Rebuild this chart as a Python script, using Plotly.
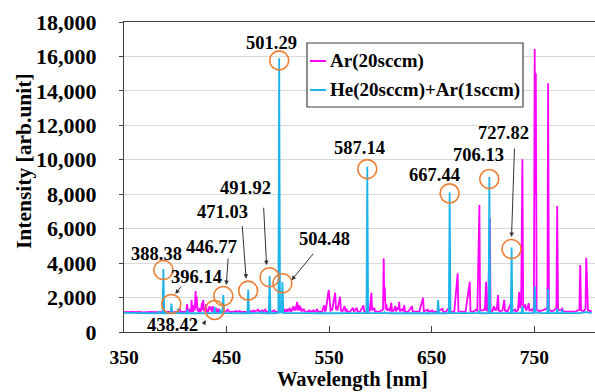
import plotly.graph_objects as go

# ---------------- data ----------------
ar_wl = [350, 353, 356, 359, 362, 365, 368, 371, 374, 377, 380, 383, 386, 389, 392, 395, 398, 401,
         403.7, 404.4, 405.1, 408, 410.8, 411.5, 412.2, 413.5, 414.1, 414.8, 415.3, 415.9, 416.6,
         417.5, 418.2, 418.9, 419.8, 420.4, 420.9, 421.6, 423.0, 423.7, 424.3, 425.3, 425.9, 426.6,
         427.2, 427.9, 429.3, 430.0, 430.7, 432.0, 432.7, 433.4, 434.1, 434.8, 435.5, 436.0, 436.6,
         437.3, 439.4, 440.1, 440.8, 442.0, 442.6, 443.3, 446, 449, 451.1, 452.2, 453, 456, 459.6,
         460.3, 462.8, 463.5, 466, 469, 472.7, 473.4, 476.5, 477.2, 480.6, 481.3, 484.8, 485.5,
         487.9, 488.6, 491, 493, 496.5, 497.2, 500, 502.5, 506.2, 506.9, 508.0, 508.8, 510.0, 510.7,
         512.0, 512.7, 514.0, 515.1, 515.8, 516.4, 517.2, 518.8, 519.6, 521.0, 521.7, 522.3, 523,
         525.3, 526.0, 528, 531.0, 531.7, 535.0, 535.7, 538.3, 539.0, 541, 543, 545.2, 545.9, 546.7,
         549.6, 550.6, 551.4, 553.0, 555.9, 556.7, 557.3, 558.0, 560.7, 561.4, 563, 565.1, 565.8,
         567.0, 567.7, 570, 573.4, 574.1, 577.0, 577.7, 580, 583.5, 584.2, 586, 588.9, 589.6, 591.2,
         591.9, 594.0, 594.7, 597, 599, 601, 602.5, 603.2, 603.8, 604.3, 605.0, 605.9, 606.6, 608.5,
         609.2, 610.6, 611.3, 613, 614.5, 615.2, 617.2, 617.8, 618.3, 619.0, 621.2, 621.9, 623.3,
         624.0, 627, 630.8, 631.5, 635, 638, 641.6, 642.3, 646.2, 646.9, 650.6, 651.3, 655, 660.5,
         661.2, 664, 667.7, 668.4, 672, 675.3, 676.0, 679, 683, 687.1, 687.8, 690, 693.8, 694.5,
         696.5, 697.2, 700, 701.1, 701.8, 703.0, 703.7, 705, 706.7, 707.4, 709, 710.7, 711.4, 712.6,
         713.3, 714.7, 715.4, 717, 719, 720.7, 721.4, 724, 727.3, 728.0, 731.2, 731.9, 734, 735.3,
         736.0, 737.2, 738.4, 739.2, 740, 741.2, 742, 743.5, 744.5, 745.2, 747.1, 747.8, 749.6,
         750.4, 751.0, 751.5, 752.3, 755, 758, 760, 762.8, 763.5, 764.3, 767, 769, 771.6, 772.4,
         773.2, 776.5, 777.2, 778, 782, 786, 790, 794.0, 794.8, 795.6, 798, 800.0, 800.6, 801.5,
         802.3, 806]
ar_int = [1150, 1165, 1145, 1160, 1150, 1170, 1145, 1160, 1150, 1165, 1150, 1160, 1150, 1165, 1150, 1160, 1150, 1170,
          1160, 1350, 1160, 1160, 1170, 1620, 1180, 1200, 1350, 1180, 1190, 1860, 1200,
          1220, 1550, 1250, 2380, 1400, 2050, 1250, 1200, 1400, 1200, 1250, 1700, 1300,
          1860, 1250, 1200, 1620, 1200, 1180, 1350, 1500, 1300, 1450, 1200, 1220, 1500,
          1200, 1180, 1400, 1180, 1170, 1350, 1170, 1160, 1170, 1300, 1250, 1160, 1170, 1220,
          1160, 1220, 1160, 1170, 1160, 1220, 1160, 1250, 1165, 1300, 1170, 1260, 1170,
          1300, 1160, 1170, 1160, 1250, 1170, 1160, 1180, 1300, 1180, 1320, 1190, 1350, 1200,
          1400, 1200, 1250, 1500, 1250, 1450, 1250, 1750, 1250, 1550, 1250, 1450, 1200,
          1350, 1180, 1170, 1250, 1170, 1250, 1170, 1300, 1170, 1180, 1170, 1550, 1200, 1250,
          2440, 1800, 1250, 1300, 2280, 1300, 1500, 1250, 2050, 1250, 1200, 1500, 1200,
          1350, 1180, 1170, 1400, 1180, 1400, 1180, 1170, 1550, 1180, 1170, 1400, 1200, 2280,
          1250, 1400, 1180, 1170, 1180, 1250, 1300, 4280, 1800, 2600, 1300, 1600, 1250, 1350,
          1200, 1700, 1200, 1250, 1500, 1200, 1450, 1300, 1750, 1200, 1350, 1200, 1550,
          1180, 1170, 1500, 1180, 1170, 1200, 1990, 1200, 1300, 1170, 1250, 1170, 1180, 1350,
          1170, 1180, 1500, 1180, 1170, 3400, 1200, 1180, 1170, 2920, 1200, 1180, 1300, 1200,
          7370, 1250, 1250, 1350, 1250, 2920, 1250, 1220, 6620, 1250, 1200, 1500, 1250, 1400,
          1250, 2150, 1250, 1200, 1250, 1860, 1250, 1200, 1700, 1200, 1300, 1200, 1250, 2340,
          1400, 1600, 10030, 1500, 1400, 1600, 1250, 1400, 1680, 1250, 1300, 1250, 1400,
          16430, 8000, 15020, 1300, 1200, 1250, 1300, 1400, 14440, 1300, 1200, 1250, 1400, 7320,
          1300, 1250, 1400, 1200, 1180, 1200, 1180, 1300, 3890, 1250, 1200, 1350, 4310, 2900,
          1250, 1200]

he_wl = [350, 356, 362, 368, 374, 380, 383.5, 384.3, 385.1, 387.6, 388.4, 389.2, 391, 395.4, 396.2,
         397.0, 400, 401.8, 402.6, 403.4, 407, 411.4, 412.1, 412.8, 418, 422, 426, 430, 434, 437.7,
         438.4, 439.1, 441, 443.1, 443.8, 444.5, 446.0, 446.8, 447.6, 452, 458, 464, 470.3, 471.1,
         471.9, 476, 480, 483.3, 484.0, 484.7, 488, 491.2, 492.0, 492.8, 496, 499.5, 500.5, 501.3,
         502.1, 503.7, 504.5, 505.3, 508, 514, 520, 526, 532, 538, 544, 550, 556, 562, 568, 574, 580,
         586.4, 587.2, 588.0, 592, 598, 603, 604, 605, 612, 620, 628, 636, 644, 650, 655.5, 656.3,
         657.1, 662, 666.7, 667.5, 668.3, 675, 685, 695.7, 696.5, 697.3, 702, 705.4, 706.2, 707.0,
         712, 718, 727.1, 727.9, 728.7, 734, 737.6, 738.4, 739.2, 745, 749.7, 750.5, 751.3, 755,
         760, 762.7, 763.5, 764.3, 768, 771.6, 772.4, 773.2, 776.4, 777.2, 778.0, 785, 794, 800.6,
         806]
he_int = [1105, 1095, 1100, 1090, 1095, 1090, 1100, 1170, 1095, 1090, 3650, 1095, 1090, 1095, 1650,
          1100, 1095, 1100, 1350, 1100, 1090, 1090, 1300, 1095, 1090, 1095, 1100, 1095, 1090, 1095,
          1450, 1100, 1095, 1100, 1300, 1100, 1095, 2150, 1095, 1090, 1095, 1090, 1090, 2450,
          1090, 1095, 1090, 1095, 1200, 1095, 1090, 1090, 3270, 1095, 1090, 1100, 1110, 15900,
          1150, 1140, 2900, 1100, 1095, 1090, 1095, 1090, 1095, 1090, 1095, 1090, 1095, 1090, 1095, 1090, 1095,
          1100, 9600, 1110, 1095, 1090, 1100, 1160, 1095, 1090, 1095, 1090, 1095, 1090, 1095, 1100, 1850,
          1100, 1090, 1100, 8100, 1100, 1095, 1090, 1100, 1250, 1095, 1090, 1100, 9000, 1110,
          1095, 1090, 1100, 4900, 1100, 1095, 1100, 1500, 1100, 1095, 1100, 2650, 1150, 1095,
          1090, 1100, 2500, 1100, 1095, 1100, 1350, 1095, 1100, 1300, 1095, 1090, 1095, 1150,
          1100]

# marked (circled) He / Ar lines
mark_wl = [388.38, 396.14, 438.42, 446.77, 471.03, 491.92, 501.29, 504.48, 587.14, 667.44, 706.13, 727.82]
mark_int = [3600, 1625, 1280, 2090, 2400, 3180, 15770, 2830, 9460, 8050, 8880, 4820]
mark_labels = ["388.38", "396.14", "438.42", "446.77", "471.03", "491.92", "501.29", "504.48",
               "587.14", "667.44", "706.13", "727.82"]

x_ticks = [350, 450, 550, 650, 750]
y_ticks = [0, 2000, 4000, 6000, 8000, 10000, 12000, 14000, 16000, 18000]

# ---------------- style ----------------
W, H = 595, 392
ML, MR, MT, MB = 124, 0, 22, 60
PW, PH = W - ML - MR, H - MT - MB
FONT = "Liberation Serif"
MAGENTA = "#FF00FF"
BLUE = "#1CB4EA"
ORANGE = "#ED7D31"
FRAME = "#404040"


def px_x(px):
    return (px - ML) / PW


def px_y(py):
    return (H - MB - py) / PH


fig = go.Figure()
fig.add_trace(go.Scatter(x=ar_wl, y=ar_int, mode="lines", name="Ar(20sccm)",
                         line=dict(color=MAGENTA, width=1.8), showlegend=False))
fig.add_trace(go.Scatter(x=he_wl, y=he_int, mode="lines", name="He(20sccm)+Ar(1sccm)",
                         line=dict(color=BLUE, width=1.8), showlegend=False))
fig.add_trace(go.Scatter(x=mark_wl, y=mark_int, mode="markers", showlegend=False,
                         marker=dict(symbol="circle-open", size=19,
                                     line=dict(color=ORANGE, width=1.6), color=ORANGE)))

# label offsets (pixels) relative to each circled point: (xshift, yshift)
label_shift = [(-7, 16), (25, 27), (-42, -15), (-12, 49), (-26, 79), (-24, 89),
               (-8, 17), (42, 44), (-8, 21), (-15, 18), (-11, 24), (-8, 116)]
# arrows: (index, head xshift, head yshift, ax, ay)
arrows = [(1, 4, 10, 7, -9), (2, -9, -10, -3, 6), (3, 3, 11, 2, -28), (4, -2, 12, -4, -54),
          (5, -3, 12, -3, -59), (7, 9, 3, 23, -28), (11, 0, 12, 3, -90)]

annotations = []
for i, (lab, (dx, dy)) in enumerate(zip(mark_labels, label_shift)):
    annotations.append(dict(x=mark_wl[i], y=mark_int[i], xref="x", yref="y", text=lab,
                            showarrow=False, xshift=dx, yshift=dy, xanchor="center", yanchor="middle",
                            font=dict(family=FONT, size=18.5, color="black", weight="bold"),
                            bgcolor="rgba(255,255,255,0.75)" if lab == "727.82" else None))
for (i, hx, hy, ax, ay) in arrows:
    annotations.append(dict(x=mark_wl[i], y=mark_int[i], xref="x", yref="y", text="",
                            showarrow=True, xshift=hx, yshift=hy, ax=ax, ay=ay,
                            arrowhead=2, arrowsize=0.9, arrowwidth=1, arrowcolor="#333333"))

# custom legend
legend_items = [("Ar(20sccm)", MAGENTA, 61), ("He(20sccm)+Ar(1sccm)", BLUE, 90)]
shapes = [dict(type="rect", xref="paper", yref="paper", x0=px_x(307), x1=px_x(523),
               y0=px_y(107), y1=px_y(43), line=dict(color=FRAME, width=1.2), fillcolor="white",
               layer="above")]
for text, col, py in legend_items:
    shapes.append(dict(type="line", xref="paper", yref="paper", x0=px_x(310), x1=px_x(326),
                       y0=px_y(py), y1=px_y(py), line=dict(color=col, width=2), layer="above"))
    annotations.append(dict(x=px_x(328), y=px_y(py), xref="paper", yref="paper", text=text,
                            showarrow=False, xanchor="left", yanchor="middle",
                            font=dict(family=FONT, size=19, color="black", weight="bold")))

# axis titles
annotations.append(dict(x=px_x(352), y=px_y(379.5), xref="paper", yref="paper", text="Wavelength [nm]",
                        showarrow=False, xanchor="center", yanchor="middle",
                        font=dict(family=FONT, size=20.5, color="black", weight="bold")))
annotations.append(dict(x=px_x(24), y=px_y(161), xref="paper", yref="paper", text="Intensity [arb.unit]",
                        showarrow=False, xanchor="center", yanchor="middle", textangle=-90,
                        font=dict(family=FONT, size=21.5, color="black", weight="bold")))

fig.update_layout(
    width=W, height=H,
    margin=dict(l=ML, r=MR, t=MT, b=MB, autoexpand=False),
    paper_bgcolor="white", plot_bgcolor="white",
    showlegend=False,
    shapes=shapes,
    annotations=annotations,
    xaxis=dict(range=[350, 809.2], tickvals=x_ticks, ticks="inside", ticklen=6, tickcolor=FRAME,
               showline=True, linecolor=FRAME, linewidth=1.3, mirror=True, showgrid=False,
               zeroline=False, ticklabelstandoff=7, automargin=False,
               tickfont=dict(family=FONT, size=19.5, color="black", weight="bold")),
    yaxis=dict(range=[0, 18000], tickvals=y_ticks, tickformat=",d", ticks="outside", ticklen=4,
               tickcolor=FRAME, showline=True, linecolor=FRAME, linewidth=1.3, mirror=True,
               showgrid=True, gridcolor="#D9D9D9", gridwidth=1, zeroline=False,
               ticklabelstandoff=18, automargin=False,
               tickfont=dict(family=FONT, size=22, color="black", weight="bold")),
)

fig.write_html("out.html", config={"displayModeBar": False},
               post_script="document.body.style.margin='0';document.body.style.overflow='hidden';")
